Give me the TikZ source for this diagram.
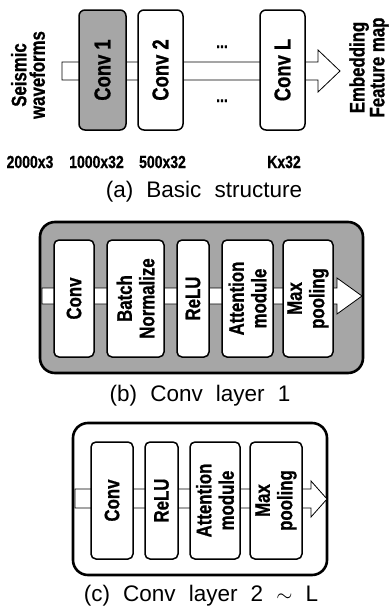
\documentclass[tikz,border=0pt]{standalone}
\usepackage{fontspec}
\newfontfamily\narrowfont[FakeStretch=0.8,BoldFeatures={FakeBold=0.8}]{Liberation Sans}
\newfontfamily\capfont[WordSpace=2.1]{Liberation Sans}

\tikzset{
  layer/.style={rectangle,draw,line width=1.5pt,rounded corners=5pt,fill=white,rotate=90,
    inner sep=0pt,align=center,font={\narrowfont\bfseries\fontsize{21}{22.5}\selectfont}},
  stage/.style={layer,rounded corners=6pt,font={\narrowfont\bfseries\fontsize{23}{24}\selectfont}},
  shell/.style={rectangle,draw,line width=2.6pt,rounded corners=15pt,inner sep=0pt},
  flow/.style={draw,line width=0.8pt,fill=white},
  side/.style={rotate=90,align=center,inner sep=0pt,font={\narrowfont\bfseries\fontsize{21}{18.5}\selectfont}},
  dims/.style={inner sep=0pt,font={\narrowfont\bfseries\fontsize{17.5}{18}\selectfont}},
  caption/.style={inner sep=0pt,font={\capfont\fontsize{22.5}{24}\selectfont}}
}

\begin{document}
\begin{tikzpicture}[x=1pt,y=-1pt]
    \useasboundingbox (0,0) rectangle (390,608);

    % (a) basic structure
    \draw[flow] (62,62) -- (318,62) -- (318,50) -- (340,71) -- (318,92) -- (318,80) -- (62,80) -- cycle;
    \node (c1) at (102.5,70) [stage,fill=gray!70,minimum width=120pt,minimum height=47pt] {Conv 1};
    \node (c2) at (160.5,70) [stage,minimum width=120pt,minimum height=45pt] {Conv 2};
    \node (cL) at (282.5,70) [stage,minimum width=120pt,minimum height=45pt] {Conv L};
    \node (d1) at (222,48) [dims,anchor=base] {...};
    \node (d2) at (222,102) [dims,anchor=base] {...};
    \node (in) at (28,75) [side] {Seismic\\waveforms};
    \node (out) at (369,67.5) [side] {Embedding\\Feature map};
    \node (s0) at (30,162) [dims] {2000x3};
    \node (s1) at (96.5,162) [dims] {1000x32};
    \node (s2) at (162.5,162) [dims] {500x32};
    \node (sL) at (284,162) [dims] {Kx32};
    \node (capa) at (204,192) [caption] {(a) Basic structure};

    % (b) first conv layer
    \node (b0) at (201.5,297.5) [shell,fill=gray!70,minimum width=323pt,minimum height=151pt] {};
    \draw[flow] (42,288) -- (337,288) -- (337,278) -- (362,296) -- (337,314) -- (337,304) -- (42,304) -- cycle;
    \node (b1) at (74,298.5) [layer,minimum width=117pt,minimum height=40pt] {Conv};
    \node (b2) at (135.5,298.5) [layer,minimum width=117pt,minimum height=57pt] {Batch\\Normalize};
    \node (b3) at (193,298.5) [layer,minimum width=117pt,minimum height=32pt] {ReLU};
    \node (b4) at (247.5,298.5) [layer,minimum width=117pt,minimum height=51pt] {Attention\\module};
    \node (b5) at (308,298.5) [layer,minimum width=117pt,minimum height=50pt] {Max\\pooling};
    \node (capb) at (200,396) [caption] {(b) Conv layer 1};

    % (c) conv layers 2 to L
    \node (e0) at (200,499) [shell,fill=white,minimum width=254pt,minimum height=152pt] {};
    \draw[flow] (75,489) -- (311,489) -- (311,481) -- (327,499) -- (311,517) -- (311,508) -- (75,508) -- cycle;
    \node (e1) at (112,500.5) [layer,minimum width=117pt,minimum height=42pt] {Conv};
    \node (e2) at (161.5,500.5) [layer,minimum width=117pt,minimum height=33pt] {ReLU};
    \node (e3) at (215,500.5) [layer,minimum width=117pt,minimum height=50pt] {Attention\\module};
    \node (e4) at (276,500.5) [layer,minimum width=117pt,minimum height=52pt] {Max\\pooling};
    \node (capc) at (201,596) [caption] {(c) Conv layer 2 $\sim$ L};
\end{tikzpicture}
\end{document}
